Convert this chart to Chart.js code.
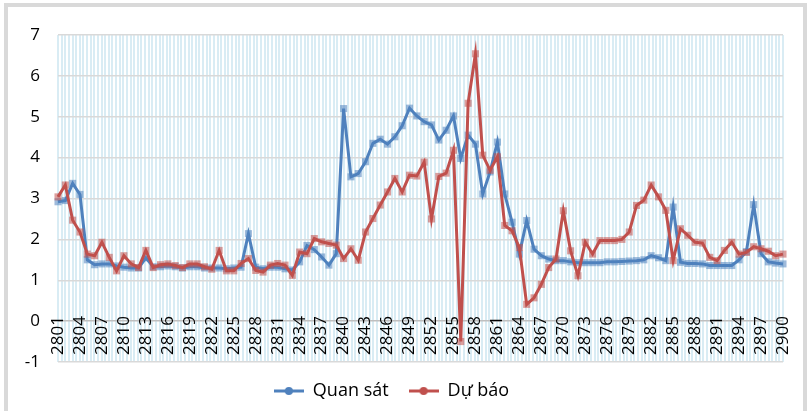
<!DOCTYPE html>
<html>
<head>
<meta charset="utf-8">
<script src="https://cdn.jsdelivr.net/npm/chart.js@4.4.1/dist/chart.umd.min.js"></script>
<style>
  body { margin: 0; background: #fff; }
  #wrap { position: relative; width: 812px; height: 411px; overflow: hidden; }
  #frame { position: absolute; left: 4px; top: 3px; width: 795px; height: 410px; border: 4px solid #d9d9d9; }
  #chart { position: absolute; left: 0; top: 0; }
</style>
</head>
<body>
<div id="wrap">
  <div id="frame"></div>
  <canvas id="chart" width="812" height="411"></canvas>
</div>
<script>
// categories 2801..2900
const labels = [];
for (let n = 2801; n <= 2900; n++) labels.push(String(n));

const quanSat = [
  2.92, 2.95, 3.37, 3.1, 1.5, 1.38, 1.4, 1.4, 1.35, 1.32,
  1.3, 1.3, 1.55, 1.33, 1.33, 1.35, 1.33, 1.3, 1.33, 1.33,
  1.3, 1.3, 1.3, 1.28, 1.3, 1.32, 2.14, 1.32, 1.28, 1.32,
  1.32, 1.28, 1.25, 1.45, 1.85, 1.75, 1.57, 1.37, 1.65, 5.2,
  3.53, 3.61, 3.9, 4.35, 4.45, 4.33, 4.51, 4.78, 5.21, 5.02,
  4.88, 4.8, 4.43, 4.67, 5.02, 3.98, 4.55, 4.33, 3.11, 3.65,
  4.38, 3.11, 2.42, 1.64, 2.46, 1.76, 1.6, 1.52, 1.48, 1.48,
  1.45, 1.43, 1.43, 1.43, 1.43, 1.45, 1.45, 1.46, 1.47, 1.48,
  1.5, 1.6, 1.55, 1.48, 2.79, 1.44, 1.41, 1.41, 1.4, 1.36,
  1.36, 1.36, 1.36, 1.5, 1.7, 2.85, 1.65, 1.45, 1.42, 1.4
];

const duBao = [
  3.04, 3.33, 2.47, 2.18, 1.64, 1.6, 1.93, 1.56, 1.23, 1.6,
  1.4, 1.31, 1.73, 1.31, 1.38, 1.4, 1.36, 1.31, 1.4, 1.4,
  1.33, 1.27, 1.73, 1.23, 1.23, 1.41, 1.53, 1.24, 1.2, 1.37,
  1.41, 1.37, 1.12, 1.69, 1.65, 2.02, 1.94, 1.9, 1.86, 1.53,
  1.77, 1.49, 2.18, 2.51, 2.84, 3.16, 3.49, 3.16, 3.57, 3.55,
  3.89, 2.5, 3.54, 3.62, 4.18, -0.5, 5.33, 6.54, 4.06, 3.69,
  4.02, 2.34, 2.21, 1.8, 0.41, 0.57, 0.9, 1.31, 1.52, 2.7,
  1.72, 1.11, 1.93, 1.64, 1.97, 1.97, 1.97, 2.0, 2.18, 2.83,
  2.96, 3.33, 3.04, 2.71, 1.48, 2.26, 2.1, 1.93, 1.91, 1.56,
  1.48, 1.73, 1.93, 1.64, 1.68, 1.82, 1.77, 1.71, 1.6, 1.64
];

const blue = '#4f81bd';
const red = '#c0504d';

// legend mark: line with a dot
function legendMark(color) {
  const c = document.createElement('canvas');
  c.width = 30; c.height = 10;
  const g = c.getContext('2d');
  g.strokeStyle = color; g.lineWidth = 3;
  g.beginPath(); g.moveTo(0, 5); g.lineTo(30, 5); g.stroke();
  g.fillStyle = color;
  g.beginPath(); g.arc(15, 5, 4, 0, Math.PI * 2); g.fill();
  return c;
}

const ctx = document.getElementById('chart').getContext('2d');
const chart = new Chart(ctx, {
  type: 'line',
  data: {
    labels: labels,
    datasets: [{
      label: 'Quan sát',
      data: quanSat,
      xAxisID: 'x',
      borderColor: blue,
      borderWidth: 3,
      pointStyle: 'rect',
      pointRadius: 5,
      pointBorderWidth: 0,
      pointBackgroundColor: 'rgba(79, 129, 189, 0.55)',
      tension: 0,
      order: 1
    }, {
      label: 'Dự báo',
      data: duBao,
      xAxisID: 'x',
      borderColor: red,
      borderWidth: 3,
      pointStyle: 'rect',
      pointRadius: 5,
      pointBorderWidth: 0,
      pointBackgroundColor: 'rgba(192, 80, 77, 0.55)',
      tension: 0,
      order: 0
    }]
  },
  options: {
    responsive: false,
    devicePixelRatio: 1,
    animation: false,
    layout: { padding: { top: 35, right: 29, bottom: 1, left: 0 } },
    scales: {
      // category axis sits on the 0 line, labels hang down into the plot
      x: {
        type: 'category',
        position: { y: 0 },
        offset: false,
        grid: { display: false, drawTicks: false },
        border: { display: false },
        ticks: {
          autoSkip: false,
          minRotation: 90,
          maxRotation: 90,
          padding: -5,
          color: '#000',
          font: { family: "'Open Sans', sans-serif", size: 17 },
          callback: function (val, index) {
            return index % 3 === 0 ? this.getLabelForValue(val) : '';
          }
        }
      },
      // fine vertical stripes of the plot background
      stripes: {
        type: 'linear',
        position: 'top',
        min: 0,
        max: 200,
        ticks: { display: false, stepSize: 1 },
        border: { display: false },
        grid: { color: '#d9ecf4', lineWidth: 2, drawTicks: false, z: -2 },
        afterFit: (scale) => { scale.height = 0; }
      },
      y: {
        min: -1,
        max: 7,
        ticks: { stepSize: 1, padding: 18, color: '#000', font: { family: "'Open Sans', sans-serif", size: 17 } },
        border: { display: false },
        grid: {
          color: (c) => c.tick && c.tick.value === 0 ? '#bfbfbf' : '#d9d9d9',
          lineWidth: 1.5,
          drawTicks: false
        },
        afterFit: (scale) => { scale.width = 58; }
      }
    },
    plugins: {
      tooltip: { enabled: false },
      legend: {
        position: 'bottom',
        labels: {
          color: '#000',
          font: { family: "'Open Sans', sans-serif", size: 18 },
          usePointStyle: true,
          pointStyleWidth: 30,
          padding: 20,
          generateLabels: () => [
            { text: 'Quan sát', pointStyle: legendMark(blue), fillStyle: blue, strokeStyle: blue, lineWidth: 0, datasetIndex: 0 },
            { text: 'Dự báo', pointStyle: legendMark(red), fillStyle: red, strokeStyle: red, lineWidth: 0, datasetIndex: 1 }
          ]
        }
      }
    }
  }
});
</script>
</body>
</html>
